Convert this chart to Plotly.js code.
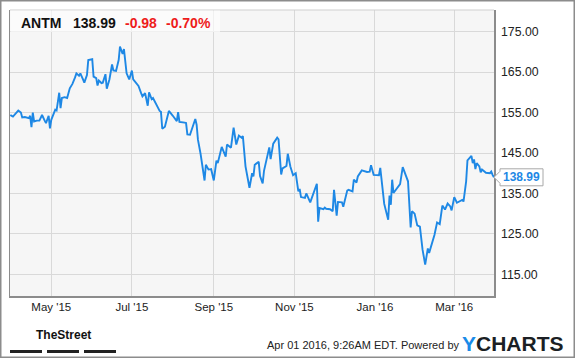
<!DOCTYPE html>
<html>
<head>
<meta charset="utf-8">
<script src="https://cdn.plot.ly/plotly-3.0.1.min.js"></script>
<style>
  html, body { margin: 0; padding: 0; background: #ffffff; }
  #chart { width: 575px; height: 358px; }
</style>
</head>
<body>
<div id="chart"></div>
<script>
// ---- data ----
const ticker = 'ANTM';
const lastPrice = 138.99;
const change = -0.98;
const changePct = -0.70;
const timestamp = 'Apr 01 2016, 9:26AM EDT. Powered by';

const dates = [
  '2015-03-31','2015-04-02','2015-04-06','2015-04-08','2015-04-09','2015-04-11','2015-04-14','2015-04-15','2015-04-16','2015-04-17',
  '2015-04-18','2015-04-20','2015-04-22','2015-04-24','2015-04-26','2015-04-27','2015-04-29','2015-04-30','2015-05-01','2015-05-04',
  '2015-05-05','2015-05-06','2015-05-07','2015-05-08','2015-05-09','2015-05-11','2015-05-13','2015-05-15','2015-05-17','2015-05-19',
  '2015-05-20','2015-05-22','2015-05-23','2015-05-25','2015-05-26','2015-05-28','2015-05-29','2015-06-01','2015-06-02','2015-06-04',
  '2015-06-05','2015-06-06','2015-06-08','2015-06-09','2015-06-11','2015-06-12','2015-06-14','2015-06-16','2015-06-17','2015-06-19',
  '2015-06-21','2015-06-22','2015-06-24','2015-06-25','2015-06-26','2015-06-27','2015-06-29','2015-07-01','2015-07-02','2015-07-04',
  '2015-07-06','2015-07-08','2015-07-09','2015-07-11','2015-07-13','2015-07-14','2015-07-16','2015-07-17','2015-07-19','2015-07-22',
  '2015-07-23','2015-07-24','2015-07-26','2015-07-29','2015-08-01','2015-08-04','2015-08-05','2015-08-06','2015-08-10','2015-08-11',
  '2015-08-12','2015-08-14','2015-08-18','2015-08-19','2015-08-20','2015-08-22','2015-08-25','2015-08-26','2015-08-28','2015-08-30',
  '2015-09-01','2015-09-03','2015-09-04','2015-09-07','2015-09-10','2015-09-11','2015-09-14','2015-09-16','2015-09-18','2015-09-20',
  '2015-09-22','2015-09-23','2015-09-25','2015-09-28','2015-09-30','2015-10-01','2015-10-02','2015-10-05','2015-10-06','2015-10-08',
  '2015-10-09','2015-10-12','2015-10-13','2015-10-14','2015-10-16','2015-10-19','2015-10-20','2015-10-22','2015-10-23','2015-10-26',
  '2015-10-27','2015-10-29','2015-10-31','2015-11-02','2015-11-04','2015-11-05','2015-11-06','2015-11-09','2015-11-10','2015-11-13',
  '2015-11-15','2015-11-18','2015-11-19','2015-11-20','2015-11-23','2015-11-24','2015-11-25','2015-11-28','2015-11-30','2015-12-01',
  '2015-12-03','2015-12-04','2015-12-07','2015-12-08','2015-12-11','2015-12-12','2015-12-15','2015-12-16','2015-12-18','2015-12-19',
  '2015-12-22','2015-12-26','2015-12-28','2015-12-29','2015-12-31','2016-01-04','2016-01-05','2016-01-07','2016-01-08','2016-01-11',
  '2016-01-12','2016-01-13','2016-01-14','2016-01-15','2016-01-17','2016-01-18','2016-01-20','2016-01-22','2016-01-26','2016-01-28',
  '2016-01-29','2016-01-31','2016-02-02','2016-02-04','2016-02-06','2016-02-08','2016-02-10','2016-02-11','2016-02-13','2016-02-15',
  '2016-02-17','2016-02-19','2016-02-21','2016-02-23','2016-02-25','2016-02-27','2016-02-28','2016-03-01','2016-03-03','2016-03-05',
  '2016-03-07','2016-03-08','2016-03-10','2016-03-11','2016-03-13','2016-03-14','2016-03-15','2016-03-16','2016-03-17','2016-03-18',
  '2016-03-20','2016-03-21','2016-03-22','2016-03-25','2016-03-28','2016-03-29','2016-03-30','2016-03-31'
];

const prices = [
  154.4,154.0,155.5,155.0,153.8,153.9,153.6,154.2,151.4,155.0,
  152.8,153.0,153.0,154.4,153.0,152.4,154.2,151.1,153.2,155.7,
  155.5,157.3,159.9,156.1,158.6,158.8,158.6,161.0,162.1,163.7,
  164.7,164.1,164.7,163.2,162.4,164.3,168.0,168.2,163.9,163.5,
  161.7,162.9,162.3,162.4,164.5,160.9,163.2,166.9,165.4,165.3,
  168.0,171.3,169.5,170.7,168.2,164.7,163.2,165.4,163.2,162.4,
  161.6,159.8,159.0,159.8,156.7,160.0,158.3,158.6,157.3,155.4,
  155.2,151.0,151.5,155.4,154.2,152.9,155.1,152.7,152.5,152.4,
  149.6,149.5,153.4,152.0,148.3,144.8,138.2,142.1,140.9,141.0,
  138.2,143.1,142.5,146.5,144.1,147.1,146.3,151.3,147.1,149.3,
  148.8,149.2,141.7,136.4,140.0,139.2,142.1,142.8,139.3,137.5,
  140.6,145.5,146.4,143.5,147.3,148.8,148.4,139.7,141.2,141.8,
  144.8,141.6,139.5,140.0,135.5,136.1,134.1,133.9,135.0,132.8,
  134.7,137.4,128.0,131.4,131.1,131.5,131.2,131.1,130.6,135.9,
  129.5,132.9,132.8,131.7,135.7,135.9,135.5,138.4,137.7,139.2,
  140.7,140.3,140.4,142.0,139.6,139.5,141.3,135.5,132.4,128.5,
  134.5,132.2,138.4,135.1,135.9,136.3,137.3,141.5,138.0,126.6,
  130.6,130.0,127.1,126.8,121.1,117.4,121.4,120.3,122.3,124.7,
  127.8,127.4,132.0,131.0,132.5,131.8,130.8,134.1,132.7,133.0,
  133.4,133.0,138.0,143.2,144.1,144.3,142.5,143.4,141.0,142.5,
  141.7,140.2,140.9,140.1,140.0,140.4,139.6,138.99
];

const yTicks = [115, 125, 135, 145, 155, 165, 175];

// ---- layout geometry ----
const W = 575, H = 358;
const M = {l: 10, r: 81, t: 10, b: 62};
const PW = W - M.l - M.r, PH = H - M.t - M.b;
const yRange = [109.63, 180.37];
const xRange = ['2015-03-30 18:00', '2016-03-31 02:00'];
const px = x => (x - M.l) / PW;            // pixel x -> paper
const py = y => (H - M.b - y) / PH;        // pixel y -> paper
const vy = v => (H - M.b) - (v - yRange[0]) / (yRange[1] - yRange[0]) * PH; // value -> pixel y

const FONT = 'Liberation Sans, Arial, sans-serif';
const BLUE = '#1e88e5';
const RED = '#ee1c1c';

const trace = {
  x: dates, y: prices, type: 'scatter', mode: 'lines',
  line: {color: BLUE, width: 1.9},
  hoverinfo: 'skip'
};

const lastY = vy(prices[prices.length - 1]);
const bx0 = 500, bx1 = 543, bh = 17;
const labelPath = 'M ' + px(M.l + PW) + ' ' + py(lastY) +
  ' L ' + px(bx0) + ' ' + py(lastY - 6) +
  ' L ' + px(bx0) + ' ' + py(lastY - bh/2) +
  ' L ' + px(bx1) + ' ' + py(lastY - bh/2) +
  ' L ' + px(bx1) + ' ' + py(lastY + bh/2) +
  ' L ' + px(bx0) + ' ' + py(lastY + bh/2) +
  ' L ' + px(bx0) + ' ' + py(lastY + 6) + ' Z';

const shapes = [
  // top border of plot area (light)
  {type: 'line', xref: 'paper', yref: 'paper', x0: 0, x1: 1, y0: 1, y1: 1,
   line: {color: '#cfcfcf', width: 1}, layer: 'above'},
  // header box
  {type: 'rect', xref: 'paper', yref: 'paper', x0: px(10.5), x1: px(220), y0: py(32), y1: py(10.5),
   fillcolor: 'rgba(255,255,255,0.6)', line: {width: 0}, layer: 'above'},
  // last-price label box
  {type: 'path', xref: 'paper', yref: 'paper', path: labelPath,
   fillcolor: '#ffffff', line: {color: '#a8a8a8', width: 1}, layer: 'above'},
  // TheStreet bars
  {type: 'rect', xref: 'paper', yref: 'paper', x0: px(10), x1: px(42), y0: py(353), y1: py(350),
   fillcolor: '#222', line: {width: 0}},
  {type: 'rect', xref: 'paper', yref: 'paper', x0: px(47), x1: px(79), y0: py(353), y1: py(350),
   fillcolor: '#222', line: {width: 0}},
  {type: 'rect', xref: 'paper', yref: 'paper', x0: px(84), x1: px(116), y0: py(353), y1: py(350),
   fillcolor: '#222', line: {width: 0}},
  // outer frame
  {type: 'rect', xref: 'paper', yref: 'paper', x0: px(0.75), x1: px(574.25), y0: py(357.25), y1: py(0.75),
   fillcolor: 'rgba(0,0,0,0)', line: {color: '#8c8c8c', width: 1.5}}
];

const ann = (text, x, y, opts) => Object.assign({
  text: text, xref: 'paper', yref: 'paper', x: px(x), y: py(y),
  xanchor: 'left', yanchor: 'middle', showarrow: false, borderpad: 0,
  font: {family: FONT, size: 14, color: '#111'}
}, opts || {});

const fmt = v => (v < 0 ? '-' : '+') + Math.abs(v).toFixed(2);

const annotations = [
  ann('<b>' + ticker + '</b>', 20, 23),
  ann('<b>' + lastPrice.toFixed(2) + '</b>', 72, 23),
  ann('<b>' + fmt(change) + '</b>', 123.5, 23, {font: {family: FONT, size: 14, color: RED}}),
  ann('<b>' + fmt(changePct) + '%</b>', 165, 23, {font: {family: FONT, size: 14, color: RED}}),
  ann('<b>' + prices[prices.length - 1].toFixed(2) + '</b>', 521.5, lastY, {
    xanchor: 'center', font: {family: FONT, size: 12, color: BLUE}}),
  ann('<b>TheStreet</b>', 63.5, 335, {xanchor: 'center',
    font: {family: FONT, size: 12, color: '#111'}}),
  ann(timestamp, 460, 345, {xanchor: 'right', font: {family: FONT, size: 11, color: '#222'}}),
  ann('<b><span style="color:#1a8be8">Y</span>CHARTS</b>', 461, 343, {font: {family: FONT, size: 21, color: '#1b1f24'}})
];

const layout = {
  width: W, height: H,
  margin: {l: M.l, r: M.r, t: M.t, b: M.b, pad: 0},
  paper_bgcolor: '#ffffff',
  plot_bgcolor: '#f6f6f6',
  showlegend: false,
  xaxis: {
    type: 'date', range: xRange, tick0: '2015-05-01', dtick: 'M2', tickformat: "%b '%y",
    showgrid: true, gridcolor: '#d9d9d9', gridwidth: 1,
    showline: true, linecolor: '#8c8c8c', linewidth: 1.5,
    ticks: '', zeroline: false, fixedrange: true,
    tickfont: {family: FONT, size: 11.5, color: '#222'}
  },
  yaxis: {
    side: 'right', range: yRange, tickvals: yTicks, tickformat: '.2f',
    showgrid: true, gridcolor: '#d9d9d9', gridwidth: 1,
    showline: true, mirror: true, linecolor: '#8c8c8c', linewidth: 1.5,
    ticks: 'outside', ticklen: 3, tickcolor: 'rgba(0,0,0,0)',
    zeroline: false, fixedrange: true,
    tickfont: {family: FONT, size: 12.3, color: '#222'}
  },
  shapes: shapes,
  annotations: annotations
};

Plotly.newPlot('chart', [trace], layout, {displayModeBar: false, staticPlot: true});
</script>
</body>
</html>
